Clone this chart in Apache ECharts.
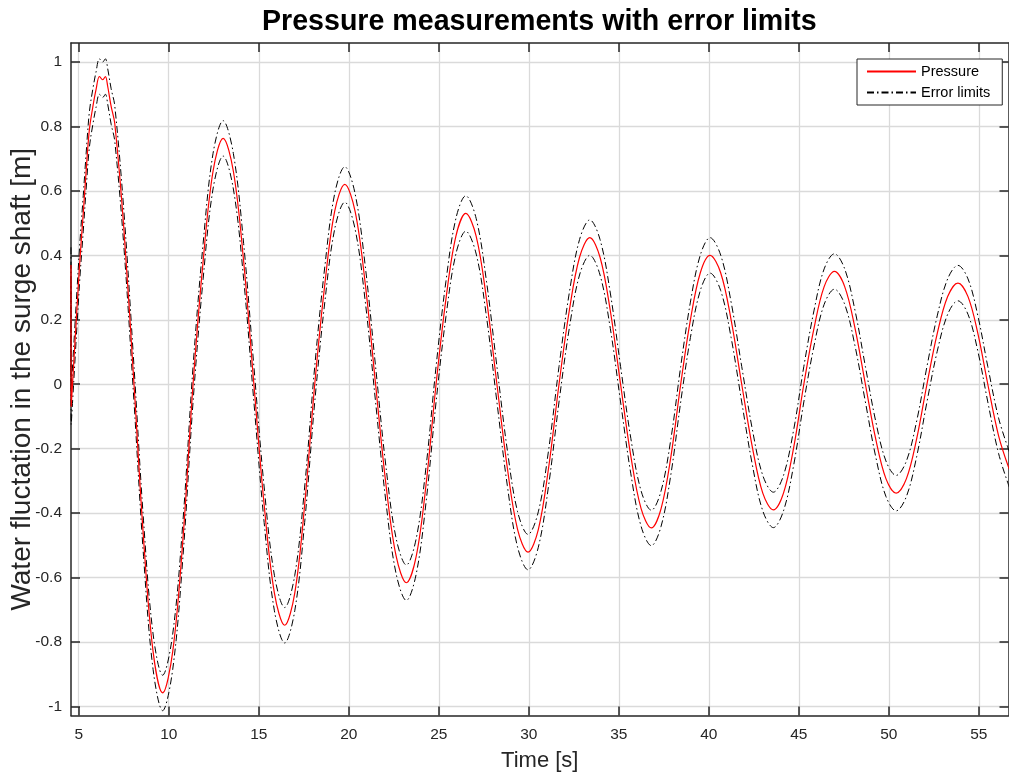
<!DOCTYPE html>
<html>
<head>
<meta charset="utf-8">
<script src="https://cdn.jsdelivr.net/npm/echarts@6/dist/echarts.min.js"></script>
<style>
html,body{margin:0;padding:0;background:#fff;}
#chart{width:1009px;height:774px;}
</style>
</head>
<body>
<div id="chart"></div>
<script>
// ---- data ----
const timeS = [4.57, 4.58, 5.04, 5.25, 5.41, 5.59, 5.78, 5.96, 6.15, 6.33, 6.48, 6.61, 6.8, 7.0, 7.51, 8.07,
  8.60, 9.13, 9.66, 10.22, 10.79, 11.35, 11.91, 12.46, 13.02, 13.59, 14.16, 14.73, 15.30, 15.87, 16.44,
  17.0, 17.55, 18.11, 18.67, 19.22, 19.78, 20.35, 20.92, 21.49, 22.06, 22.63, 23.2, 23.75, 24.3, 24.85,
  25.4, 25.95, 26.5, 27.08, 27.65, 28.23, 28.81, 29.38, 29.96, 30.53, 31.1, 31.68, 32.25, 32.82, 33.39,
  33.96, 34.53, 35.1, 35.67, 36.24, 36.81, 37.35, 37.9, 38.44, 38.98, 39.53, 40.07, 40.66, 41.24, 41.83,
  42.42, 43.0, 43.59, 44.15, 44.72, 45.28, 45.85, 46.41, 46.98, 47.55, 48.12, 48.7, 49.27, 49.84, 50.41,
  50.98, 51.55, 52.12, 52.69, 53.27, 53.84, 54.4, 54.95, 55.5, 56.1, 56.7];
const pressure = [0.37, -0.07, 0.365, 0.53, 0.66, 0.79, 0.86, 0.914, 0.955, 0.945, 0.955, 0.924, 0.862, 0.81, 0.48, 0,
  -0.479, -0.83, -0.958, -0.83, -0.479, 0, 0.382, 0.661, 0.763, 0.661, 0.382, 0, -0.374, -0.648, -0.748,
  -0.648, -0.374, 0, 0.31, 0.537, 0.62, 0.537, 0.31, 0, -0.308, -0.533, -0.616, -0.533, -0.308, 0,
  0.265, 0.459, 0.53, 0.459, 0.265, 0, -0.26, -0.451, -0.521, -0.451, -0.26, 0, 0.228, 0.394, 0.455,
  0.394, 0.228, 0, -0.223, -0.386, -0.446, -0.386, -0.223, 0, 0.2, 0.346, 0.40, 0.346, 0.2, 0,
  -0.195, -0.338, -0.39, -0.338, -0.195, 0, 0.175, 0.303, 0.35, 0.303, 0.175, 0, -0.169, -0.293, -0.338,
  -0.293, -0.169, 0, 0.157, 0.272, 0.314, 0.272, 0.157, 0, -0.16, -0.265];
const errorMargin = 0.055;
const xTicks = [5, 10, 15, 20, 25, 30, 35, 40, 45, 50, 55];
const yTicks = [-1, -0.8, -0.6, -0.4, -0.2, 0, 0.2, 0.4, 0.6, 0.8, 1];
const xRange = [4.57, 56.65];
const yRange = [-1.028, 1.059];
const titleText = 'Pressure measurements with error limits';
const xName = 'Time [s]';
const yName = 'Water fluctation in the surge shaft [m]';

// ---- build ----
const pressPts = timeS.map((t, i) => [t, pressure[i]]);
const upperPts = timeS.map((t, i) => [t, +(pressure[i] + errorMargin).toFixed(4)]);
const lowerPts = timeS.map((t, i) => [t, +(pressure[i] - errorMargin).toFixed(4)]);

const FONT = '"Liberation Sans", Arial, Helvetica, sans-serif';
const AX = '#262626';
const GRIDC = '#dadada';
const axLine = { show: true, onZero: false, lineStyle: { color: AX, width: 1.5 } };
const tick = (vals) => ({ show: true, inside: true, length: 9, customValues: vals, lineStyle: { color: AX, width: 1.5 } });

const chart = echarts.init(document.getElementById('chart'), null, { renderer: 'canvas' });
chart.setOption({
  animation: false,
  backgroundColor: '#fff',
  title: {
    text: titleText, left: 257, top: 3, padding: 5,
    textStyle: { fontFamily: FONT, fontSize: 28.6, fontWeight: 'bold', color: '#000' }
  },
  legend: {
    data: ['Pressure', 'Error limits'], orient: 'vertical', left: 857, top: 59,
    padding: [5, 12, 5, 9], itemGap: 6, itemWidth: 49, itemHeight: 14,
    backgroundColor: '#fff', borderColor: AX, borderWidth: 1, borderRadius: 0,
    selectedMode: false,
    itemStyle: { opacity: 0, borderWidth: 0 },
    textStyle: { fontFamily: FONT, fontSize: 14.5, color: '#000' }
  },
  grid: { left: 71, right: 0.5, top: 43, bottom: 58.5, containLabel: false, outerBoundsMode: 'none' },
  xAxis: [{
    type: 'value', min: xRange[0], max: xRange[1], position: 'bottom',
    name: xName, nameLocation: 'middle', nameGap: 34, nameMoveOverlap: false,
    nameTextStyle: { fontFamily: FONT, fontSize: 22, color: AX },
    axisLine: axLine, axisTick: tick(xTicks),
    axisLabel: { customValues: xTicks, margin: 11, color: AX, fontSize: 15.5, fontFamily: FONT },
    splitLine: { show: true, lineStyle: { color: GRIDC, width: 1.3 } }
  }, {
    type: 'value', min: xRange[0], max: xRange[1], position: 'top',
    axisLine: axLine, axisTick: tick(xTicks), axisLabel: { show: false }, splitLine: { show: false }
  }],
  yAxis: [{
    type: 'value', min: yRange[0], max: yRange[1], position: 'left',
    name: yName, nameLocation: 'middle', nameGap: 35, nameMoveOverlap: false,
    nameTextStyle: { fontFamily: FONT, fontSize: 28, color: AX },
    axisLine: axLine, axisTick: tick(yTicks),
    axisLabel: { customValues: yTicks, margin: 9, color: AX, fontSize: 15.5, fontFamily: FONT },
    splitLine: { show: true, lineStyle: { color: GRIDC, width: 1.3 } }
  }, {
    type: 'value', min: yRange[0], max: yRange[1], position: 'right',
    axisLine: axLine, axisTick: tick(yTicks), axisLabel: { show: false }, splitLine: { show: false }
  }],
  series: [
    {
      name: 'Pressure', type: 'line', data: pressPts, symbol: 'none', smooth: 0.35,
      xAxisIndex: 0, yAxisIndex: 0, z: 3,
      lineStyle: { color: '#ff0000', width: 1.2 }, itemStyle: { color: '#ff0000' }
    },
    {
      name: 'Error limits', type: 'line', data: upperPts, symbol: 'none', smooth: 0.35,
      xAxisIndex: 0, yAxisIndex: 0, z: 2,
      lineStyle: { color: '#000', width: 1, type: [7, 3, 1.5, 3] }, itemStyle: { color: '#000' }
    },
    {
      name: 'Error limits', type: 'line', data: lowerPts, symbol: 'none', smooth: 0.35,
      xAxisIndex: 0, yAxisIndex: 0, z: 2,
      lineStyle: { color: '#000', width: 1, type: [7, 3, 1.5, 3] }, itemStyle: { color: '#000' }
    }
  ]
});
</script>
</body>
</html>
